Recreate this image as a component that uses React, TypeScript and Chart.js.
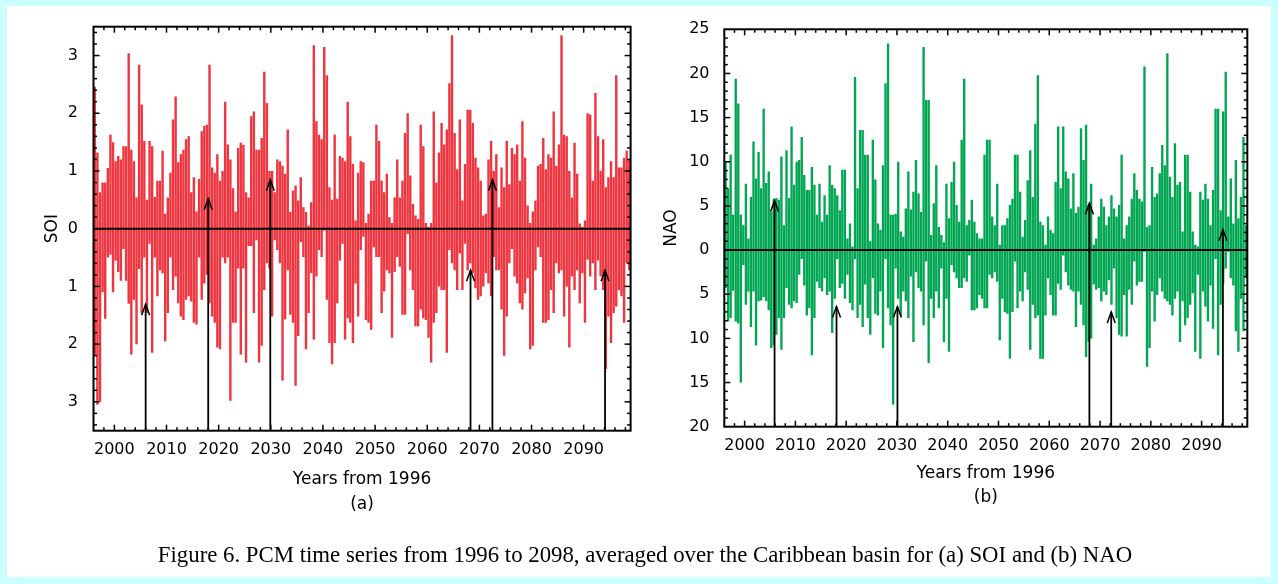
import React, { useEffect, useRef } from 'react';
import { Chart, registerables } from 'chart.js';

Chart.register(...registerables);

const START_YEAR = 1996;
const END_YEAR = 2099;
const SLOT = 0.5; // half-year slots

const YEAR_TICKS = [2000, 2010, 2020, 2030, 2040, 2050, 2060, 2070, 2080, 2090];
const SOI_TICKS = [-3, -2, -1, 0, 1, 2, 3];
const NAO_TICKS = [-20, -15, -10, -5, 0, 5, 10, 15, 20, 25];

// SOI: upper and lower envelope of each half-year slot
const SOI_POS = [
  2.46, 1.32, 0.63, 0.8, 0.8, 1.05, 1.63, 1.5, 1.17, 1.26, 1.2, 1.43, 1.43, 3.04, 1.37, 1.17, 0.54, 2.84, 2.15, 1.52, 0.5, 1.52, 1.43, 0.55, 0.83, 0.83,
  1.35, 0.26, 0.54, 0.97, 1.89, 2.29, 1.15, 1.29, 1.37, 1.55, 1.6, 0.63, 0.89, 0.3, 0.86, 1.69, 1.78, 1.8, 2.84, 1.06, 0.97, 1.29, 0.83, 1.0, 2.2, 1.46,
  1.2, 0.7, 0.3, 1.4, 1.49, 1.45, 0.63, 0.54, 1.95, 2.03, 1.37, 1.37, 1.57, 2.72, 2.18, 1.0, 1.0, 0.63, 1.2, 1.17, 1.09, 0.95, 1.72, 0.29, 0.66, 0.75,
  0.49, 0.89, 0.37, 0.29, 0.05, 0.46, 3.18, 1.86, 1.63, 1.55, 3.15, 2.66, 0.72, 0.5, 1.63, 0.52, 1.26, 1.23, 1.17, 2.2, 1.6, 1.12, 0.14, 0.97, 1.17, 1.15,
  0.1, 0.26, 0.83, 0.83, 1.8, 1.52, 0.83, 0.63, 0.95, 0.2, 0.1, 0.54, 1.2, 0.54, 0.83, 1.66, 2.0, 0.92, 0.43, 0.23, 0.17, 1.8, 1.43, 0.1, 0.03, 0.1,
  2.03, 0.8, 1.32, 1.83, 1.46, 1.72, 2.52, 3.35, 1.66, 1.03, 1.89, 0.49, 1.12, 2.06, 2.06, 1.83, 1.23, 1.06, 0.83, 0.23, 0.26, 1.2, 1.52, 1.0, 1.29, 0.37,
  1.06, 0.72, 1.52, 0.77, 1.4, 1.29, 1.46, 0.83, 1.86, 1.23, 0.4, 0.1, 0.3, 0.49, 1.09, 1.12, 1.57, 1.03, 1.29, 1.23, 2.03, 1.09, 1.46, 3.35, 1.63, 1.6,
  1.0, 0.54, 1.49, 0.95, 0.09, 0.03, 0.14, 2.0, 1.98, 0.83, 2.35, 1.6, 1.0, 1.55, 0.72, 0.89, 1.17, 0.89, 2.66, 1.06, 1.06, 1.23, 1.35, 1.2,
];
const SOI_NEG = [
  -2.2, -3.05, -3.0, -1.1, -1.56, -0.5, -0.45, -1.1, -0.55, -0.75, -0.9, -0.35, -0.9, -1.3, -2.18, -1.23, -2.0, -0.7, -1.46, -0.5, -1.46, -0.26, -2.15, -0.5, -1.17, -0.72,
  -0.77, -1.95, -1.46, -0.5, -1.06, -0.83, -1.29, -1.52, -1.58, -1.23, -1.17, -1.26, -1.63, -1.66, -0.5, -1.23, -0.95, -0.8, -1.29, -1.52, -1.63, -2.06, -2.09, -0.5, -0.6, -0.5,
  -2.98, -1.63, -1.63, -0.69, -2.18, -0.69, -2.32, -0.3, -0.3, -1.46, -0.2, -2.32, -2.03, -1.06, -0.6, -0.69, -1.52, -0.2, -0.37, -0.6, -2.63, -1.57, -0.72, -1.49, -1.63, -2.72,
  -1.86, -0.23, -0.49, -2.09, -1.46, -0.77, -1.92, -0.83, -0.37, -0.49, -0.03, -1.23, -1.98, -2.35, -1.98, -1.29, -0.55, -0.26, -1.92, -1.55, -1.63, -1.98, -0.95, -1.52, -0.37, -0.14,
  -1.58, -1.63, -1.75, -0.32, -0.49, -0.49, -1.46, -1.09, -0.72, -0.77, -1.89, -0.75, -0.49, -0.66, -1.49, -1.49, -0.09, -0.72, -1.06, -1.69, -1.69, -1.4, -1.55, -1.58, -1.89, -2.32,
  -1.63, -1.46, -1.0, -1.06, -1.06, -2.15, -0.37, -0.6, -0.72, -1.06, -0.43, -1.06, -0.26, -0.72, -0.6, -0.77, -1.03, -1.23, -1.17, -1.0, -0.77, -0.95, -1.17, -0.49, -0.72, -0.72,
  -1.4, -2.2, -1.52, -0.6, -0.35, -0.83, -0.95, -1.29, -1.4, -1.12, -0.86, -2.09, -2.03, -0.72, -0.32, -0.49, -1.63, -1.63, -1.58, -1.06, -1.46, -0.6, -0.77, -0.72, -1.52, -1.0,
  -2.06, -0.83, -1.06, -0.72, -1.29, -0.77, -1.63, -0.54, -0.83, -0.6, -1.06, -0.55, -0.83, -1.06, -2.43, -1.52, -1.98, -1.46, -1.35, -1.06, -1.17, -1.63, -0.6, -0.72,
];

// NAO: upper and lower envelope of each half-year slot
const NAO_POS = [
  10.0, 7.0, 10.8, 4.0, 19.4, 16.6, 4.0, 2.8, 7.5, 1.3, 6.0, 12.3, 8.1, 11.1, 7.0, 16.0, 7.6, 8.9, 4.3, 5.8, 5.9, 5.7, 10.6, 2.8, 11.3, 5.9,
  14.0, 7.4, 10.0, 10.2, 12.8, 8.5, 6.8, 6.8, 9.4, 7.4, 4.0, 7.5, 3.2, 6.2, 4.0, 9.6, 7.4, 7.0, 6.2, 4.5, 9.1, 9.1, 1.3, 3.0, 0.4, 19.6,
  7.0, 13.6, 13.6, 10.8, 10.8, 1.0, 12.5, 8.0, 3.0, 2.3, 9.6, 18.9, 23.4, 4.0, 4.0, 4.1, 10.0, 2.1, 1.5, 4.7, 8.9, 4.6, 6.6, 10.2, 6.4, 4.3,
  23.0, 17.0, 17.0, 1.7, 5.3, 9.6, 2.6, 1.7, 0.9, 7.5, 3.6, 7.7, 10.0, 5.1, 3.2, 12.5, 19.4, 2.8, 3.4, 5.7, 3.2, 1.9, 1.3, 1.3, 10.8, 12.5,
  12.5, 3.8, 2.8, 7.5, 0.6, 2.8, 2.8, 3.6, 5.1, 5.8, 10.8, 10.8, 6.6, 1.5, 3.4, 7.9, 11.3, 6.0, 14.3, 19.8, 3.2, 2.8, 0.6, 3.8, 2.3, 1.9,
  7.7, 14.0, 7.0, 14.0, 8.9, 8.1, 4.7, 8.7, 4.2, 4.9, 13.8, 10.2, 14.2, 5.1, 7.5, 0.6, 1.3, 3.8, 5.8, 4.9, 2.8, 3.8, 6.2, 4.7, 3.8, 5.1,
  10.8, 1.3, 2.8, 3.8, 5.8, 8.7, 6.8, 5.8, 5.5, 20.8, 2.6, 2.8, 9.4, 6.0, 6.4, 8.7, 11.9, 9.6, 22.3, 8.3, 6.0, 12.1, 7.4, 7.7, 2.1, 10.8,
  10.8, 6.6, 2.1, 0.6, 0.4, 6.6, 5.7, 7.5, 5.8, 2.8, 6.8, 16.0, 16.0, 4.5, 15.7, 20.2, 3.8, 8.1, 3.0, 10.2, 3.6, 6.0, 12.8, 2.8,
];
const NAO_NEG = [
  -4.3, -8.1, -7.7, -4.6, -8.1, -8.3, -15.0, -1.7, -6.2, -4.7, -8.7, -4.7, -10.8, -5.8, -5.7, -5.3, -5.8, -6.8, -11.1, -10.8, -9.6, -7.7, -11.3, -7.7, -4.3, -6.2,
  -6.6, -5.8, -6.0, -2.8, -1.0, -4.0, -7.4, -6.6, -11.9, -7.7, -3.6, -4.3, -4.7, -3.2, -5.1, -4.7, -9.4, -5.5, -1.0, -4.3, -3.8, -5.5, -2.8, -6.0, -6.8, -1.0,
  -7.7, -6.2, -8.7, -3.9, -7.7, -9.6, -3.2, -7.2, -7.4, -4.7, -11.1, -1.0, -6.6, -8.5, -17.5, -2.1, -5.5, -7.4, -4.7, -5.8, -7.7, -3.0, -10.4, -2.5, -4.3, -4.7,
  -8.5, -1.3, -12.8, -5.5, -7.7, -4.7, -6.6, -2.1, -10.4, -5.5, -11.5, -1.7, -2.5, -3.2, -4.3, -4.3, -3.2, -3.6, -0.6, -6.8, -6.8, -6.6, -5.1, -5.5, -6.6, -6.6,
  -2.8, -3.2, -2.5, -3.6, -10.2, -5.5, -7.0, -7.2, -12.3, -7.0, -1.3, -6.6, -4.7, -5.8, -2.5, -4.5, -11.3, -6.2, -7.7, -7.4, -12.3, -12.3, -7.4, -3.2, -5.1, -7.4,
  -7.4, -3.8, -4.5, -0.6, -2.5, -4.0, -4.5, -4.7, -8.7, -4.7, -6.2, -8.5, -12.1, -10.4, -10.0, -3.9, -4.5, -4.3, -5.8, -4.7, -5.1, -3.4, -6.2, -2.1, -7.7, -9.6,
  -9.8, -5.1, -9.8, -4.5, -6.2, -1.3, -4.0, -3.6, -3.6, -0.2, -13.2, -11.1, -4.7, -8.1, -5.1, -3.2, -4.7, -5.5, -5.8, -6.2, -7.4, -5.5, -4.7, -10.4, -5.8, -8.5,
  -7.7, -6.2, -4.9, -11.5, -2.8, -12.3, -4.7, -6.4, -8.1, -4.0, -8.9, -1.0, -11.9, -6.2, -3.8, -2.1, -0.2, -3.2, -4.0, -9.2, -11.5, -5.5, -9.2, -3.2,
];

// Arrows: year of each event and value at arrow tip
const SOI_ARROW_YEARS = [2006.0, 2018.0, 2029.9, 2068.3, 2072.5, 2094.1];
const SOI_ARROW_TIPS = [-1.31, 0.52, 0.85, -0.72, 0.85, -0.72];
const NAO_ARROW_YEARS = [2005.9, 2018.1, 2030.1, 2067.9, 2072.2, 2094.2];
const NAO_ARROW_TIPS = [5.6, -6.4, -6.4, 5.3, -7.0, 2.3];

const CAPTION =
  'Figure 6. PCM time series from 1996 to 2098, averaged over the Caribbean basin for (a) SOI and (b) NAO';

const W = 1278;
const H = 584;
const SANS = '"DejaVu Sans", sans-serif';

type PanelCfg = {
  pos: number[];
  neg: number[];
  color: string;
  yMin: number;
  yMax: number;
  yTicks: number[];
  yMinor: number;
  yMajor: number;
  yTitle: string;
  sub: string;
  arrowYears: number[];
  arrowTips: number[];
  pad: { left: number; right: number; top: number; bottom: number };
  yWidth: number;
  xHeight: number;
  titleLH: number;
  yTickPad: number;
  xTickPad: number;
};

function makeFramePlugin(cfg: PanelCfg) {
  return {
    id: 'frameAndArrows',
    afterDatasetsDraw(chart: any) {
      const { ctx, chartArea: a, scales } = chart;
      const x = scales.x;
      const y = scales.y;
      const seg = (x1: number, y1: number, x2: number, y2: number) => {
        ctx.beginPath();
        ctx.moveTo(x1, y1);
        ctx.lineTo(x2, y2);
        ctx.stroke();
      };
      ctx.save();
      ctx.strokeStyle = '#000';
      // zero line
      ctx.lineWidth = 2;
      const y0 = y.getPixelForValue(0);
      seg(a.left, y0, a.right, y0);
      // arrows
      cfg.arrowYears.forEach((yr, i) => {
        const px = x.getPixelForValue(yr);
        const py = y.getPixelForValue(cfg.arrowTips[i]);
        ctx.lineWidth = 1.8;
        seg(px, a.bottom, px, py);
        ctx.lineWidth = 1.5;
        ctx.beginPath();
        ctx.moveTo(px - 4, py + 11);
        ctx.lineTo(px, py);
        ctx.lineTo(px + 4, py + 11);
        ctx.stroke();
      });
      // frame
      ctx.lineWidth = 2;
      ctx.strokeRect(a.left, a.top, a.right - a.left, a.bottom - a.top);
      // inward tick marks: x every 2 years, major at decades
      ctx.lineWidth = 1.5;
      for (let yr = START_YEAR + 2; yr < END_YEAR; yr += 2) {
        const px = x.getPixelForValue(yr);
        const len = yr % 10 === 0 ? 6 : 3.5;
        seg(px, a.bottom, px, a.bottom - len);
        seg(px, a.top, px, a.top + len);
      }
      // y minor/major
      const n0 = Math.ceil(cfg.yMin / cfg.yMinor + 1e-6);
      const n1 = Math.floor(cfg.yMax / cfg.yMinor - 1e-6);
      for (let n = n0; n <= n1; n++) {
        const v = n * cfg.yMinor;
        const r = v / cfg.yMajor;
        const major = Math.abs(r - Math.round(r)) < 1e-6;
        const len = major ? 6 : 3.5;
        const py = y.getPixelForValue(v);
        seg(a.left, py, a.left + len, py);
        seg(a.right, py, a.right - len, py);
      }
      ctx.restore();
    },
  };
}

function Panel({ cfg }: { cfg: PanelCfg }) {
  const ref = useRef<HTMLCanvasElement>(null);
  useEffect(() => {
    const data = cfg.pos.map((p, i) => ({
      x: START_YEAR + (i + 0.5) * SLOT,
      y: [cfg.neg[i], p],
    }));
    const chart = new Chart(ref.current as HTMLCanvasElement, {
      type: 'bar',
      data: {
        datasets: [
          {
            data: data as any,
            backgroundColor: cfg.color,
            borderWidth: 0,
            borderSkipped: false,
            barPercentage: 0.93,
            categoryPercentage: 1,
          },
        ],
      },
      options: {
        responsive: false,
        animation: false,
        devicePixelRatio: 1,
        layout: { padding: cfg.pad },
        plugins: { legend: { display: false }, tooltip: { enabled: false } },
        scales: {
          x: {
            type: 'linear',
            min: START_YEAR,
            max: END_YEAR,
            offset: false,
            grid: { display: false },
            border: { display: false },
            afterBuildTicks: (s: any) => {
              s.ticks = YEAR_TICKS.map((v) => ({ value: v }));
            },
            afterFit: (s: any) => {
              s.height = cfg.xHeight;
            },
            ticks: {
              autoSkip: false,
              maxRotation: 0,
              minRotation: 0,
              padding: cfg.xTickPad,
              color: '#000',
              font: { family: SANS, size: 16 },
              callback: (v: any) => String(v),
            },
            title: {
              display: true,
              text: ['Years from 1996', cfg.sub],
              color: '#000',
              padding: 0,
              font: { family: SANS, size: 17, lineHeight: cfg.titleLH + 'px' },
            },
          },
          y: {
            type: 'linear',
            min: cfg.yMin,
            max: cfg.yMax,
            grid: { display: false },
            border: { display: false },
            afterBuildTicks: (s: any) => {
              s.ticks = cfg.yTicks.map((v) => ({ value: v }));
            },
            afterFit: (s: any) => {
              s.width = cfg.yWidth;
            },
            ticks: {
              autoSkip: false,
              padding: cfg.yTickPad,
              color: '#000',
              font: { family: SANS, size: 16 },
              callback: (v: any) => String(Math.abs(Number(v))),
            },
            title: {
              display: true,
              text: cfg.yTitle,
              color: '#000',
              padding: 0,
              font: { family: SANS, size: 17 },
            },
          },
        },
      },
      plugins: [makeFramePlugin(cfg)],
    });
    return () => chart.destroy();
  }, [cfg]);
  return (
    <canvas
      ref={ref}
      width={W}
      height={H}
      style={{ position: 'absolute', left: 0, top: 0, width: W, height: H }}
    />
  );
}

const SOI_CFG: PanelCfg = {
  pos: SOI_POS,
  neg: SOI_NEG,
  color: '#EE3641',
  yMin: -3.5,
  yMax: 3.5,
  yTicks: SOI_TICKS,
  yMinor: 0.2,
  yMajor: 1,
  yTitle: 'SOI',
  sub: '(a)',
  arrowYears: SOI_ARROW_YEARS,
  arrowTips: SOI_ARROW_TIPS,
  pad: { left: 42.8, right: W - 630.6, top: 26.7, bottom: H - 430.7 - 86 },
  yWidth: 93.5 - 42.8,
  xHeight: 86,
  titleLH: 25,
  yTickPad: 7.5,
  xTickPad: 1.5,
};

const NAO_CFG: PanelCfg = {
  pos: NAO_POS,
  neg: NAO_NEG,
  color: '#00A651',
  yMin: -20,
  yMax: 25,
  yTicks: NAO_TICKS,
  yMinor: 1,
  yMajor: 5,
  yTitle: 'NAO',
  sub: '(b)',
  arrowYears: NAO_ARROW_YEARS,
  arrowTips: NAO_ARROW_TIPS,
  pad: { left: 661.8, right: W - 1247.3, top: 29.3, bottom: H - 426.7 - 83.3 },
  yWidth: 724.3 - 661.8,
  xHeight: 83.3,
  titleLH: 24,
  yTickPad: 6.8,
  xTickPad: 1.5,
};

export default function App() {
  return (
    <div
      style={{
        position: 'fixed',
        left: 0,
        top: 0,
        width: W,
        height: H,
        background: '#CCFFFF',
        overflow: 'hidden',
      }}
    >
      <div
        style={{ position: 'absolute', left: 7, top: 6, width: 1264, height: 571, background: '#FFFFFF' }}
      />
      <Panel cfg={SOI_CFG} />
      <Panel cfg={NAO_CFG} />
      <div
        style={{
          position: 'absolute',
          left: 6,
          top: 541,
          width: W,
          textAlign: 'center',
          fontFamily: '"Liberation Serif", serif',
          fontSize: 22.8,
          lineHeight: '27px',
          color: '#000',
          whiteSpace: 'nowrap',
        }}
      >
        {CAPTION}
      </div>
    </div>
  );
}
